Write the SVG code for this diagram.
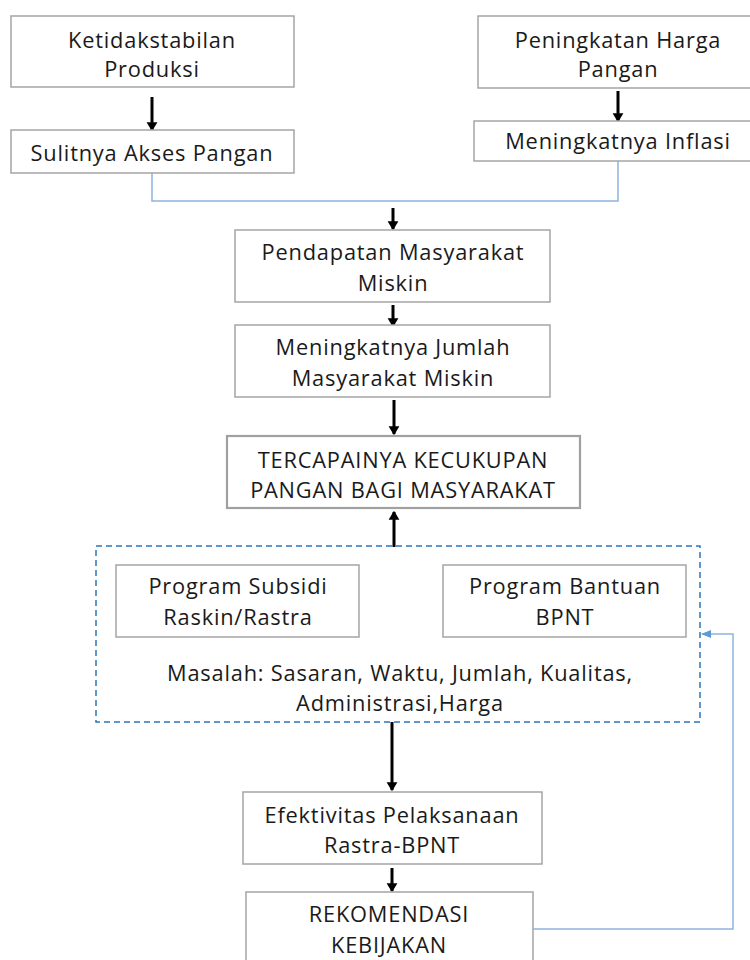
<svg xmlns="http://www.w3.org/2000/svg" width="750" height="960" viewBox="0 0 750 960">
<defs>
<style>
.box{fill:#fff;stroke:#a5a5a5;stroke-width:1.5}
.box2{fill:#fff;stroke:#a0a0a0;stroke-width:2.2}
.t{font-family:"Open Sans","Liberation Sans",sans-serif;font-size:21.8px;fill:#1a1a1a;text-anchor:middle;letter-spacing:0.8px}
.arr{stroke:#000;stroke-width:3;fill:none;marker-end:url(#ah)}
.blue{stroke:#8fb4e0;stroke-width:1.5;fill:none}
</style>
<marker id="ah" markerWidth="4" markerHeight="4" refX="2.6" refY="2" orient="auto" markerUnits="strokeWidth">
<path d="M0,0.2 L3,2 L0,3.8 z" fill="#000"/>
</marker>
<marker id="bh" markerWidth="10" markerHeight="10" refX="9" refY="5" orient="auto" markerUnits="userSpaceOnUse">
<path d="M0,1 L10,5 L0,9 z" fill="#5b9bd5"/>
</marker>
</defs>
<rect width="750" height="960" fill="#fff"/>
<g id="connectors">
<line class="arr" x1="152" y1="97" x2="152" y2="130"/>
<line class="arr" x1="618" y1="91" x2="618" y2="121"/>
<polyline class="blue" points="152,173 152,201 618,201 618,161"/>
<line class="arr" x1="393" y1="208" x2="393" y2="229"/>
<line class="arr" x1="393" y1="305" x2="393" y2="326"/>
<line class="arr" x1="394" y1="400" x2="394" y2="434"/>
<line class="arr" x1="394" y1="547" x2="394" y2="512"/>
<line class="arr" x1="392" y1="722" x2="392" y2="790"/>
<line class="arr" x1="392" y1="868" x2="392" y2="891"/>
<polyline class="blue" points="533,929 733,929 733,634 702,634" marker-end="url(#bh)"/>
</g>
<g id="n1"><rect class="box" x="11" y="16" width="283" height="71"/><text class="t" x="152" y="48">Ketidakstabilan</text><text class="t" x="152" y="77">Produksi</text></g>
<g id="n2"><rect class="box" x="11" y="130" width="283" height="43"/><text class="t" x="152" y="161">Sulitnya Akses Pangan</text></g>
<g id="n3"><rect class="box" x="478" y="16" width="275" height="72"/><text class="t" x="618" y="48">Peningkatan Harga</text><text class="t" x="618" y="77">Pangan</text></g>
<g id="n4"><rect class="box" x="474" y="121" width="279" height="40"/><text class="t" x="618" y="149">Meningkatnya Inflasi</text></g>
<g id="n5"><rect class="box" x="235" y="230" width="315" height="72"/><text class="t" x="393" y="260">Pendapatan Masyarakat</text><text class="t" x="393" y="291">Miskin</text></g>
<g id="n6"><rect class="box" x="235" y="325" width="315" height="72"/><text class="t" x="393" y="355">Meningkatnya Jumlah</text><text class="t" x="393" y="386">Masyarakat Miskin</text></g>
<g id="n7"><rect class="box2" x="227" y="436" width="353" height="72"/><text class="t" x="403" y="468">TERCAPAINYA KECUKUPAN</text><text class="t" x="403" y="498">PANGAN BAGI MASYARAKAT</text></g>
<g id="group"><rect x="96" y="546" width="604" height="176" fill="none" stroke="#2e75b6" stroke-width="1.5" stroke-dasharray="6,4"/>
<text class="t" x="400" y="681">Masalah: Sasaran, Waktu, Jumlah, Kualitas,</text><text class="t" x="400" y="711">Administrasi,Harga</text></g>
<g id="n8"><rect class="box" x="116" y="565" width="243" height="72"/><text class="t" x="238" y="594">Program Subsidi</text><text class="t" x="238" y="625">Raskin/Rastra</text></g>
<g id="n9"><rect class="box" x="443" y="565" width="243" height="72"/><text class="t" x="565" y="594">Program Bantuan</text><text class="t" x="565" y="625">BPNT</text></g>
<g id="n10"><rect class="box" x="243" y="792" width="299" height="72"/><text class="t" x="392" y="823">Efektivitas Pelaksanaan</text><text class="t" x="392" y="853">Rastra-BPNT</text></g>
<g id="n11"><rect class="box" x="246" y="892" width="287" height="72"/><text class="t" x="389" y="922">REKOMENDASI</text><text class="t" x="389" y="953">KEBIJAKAN</text></g>
</svg>
